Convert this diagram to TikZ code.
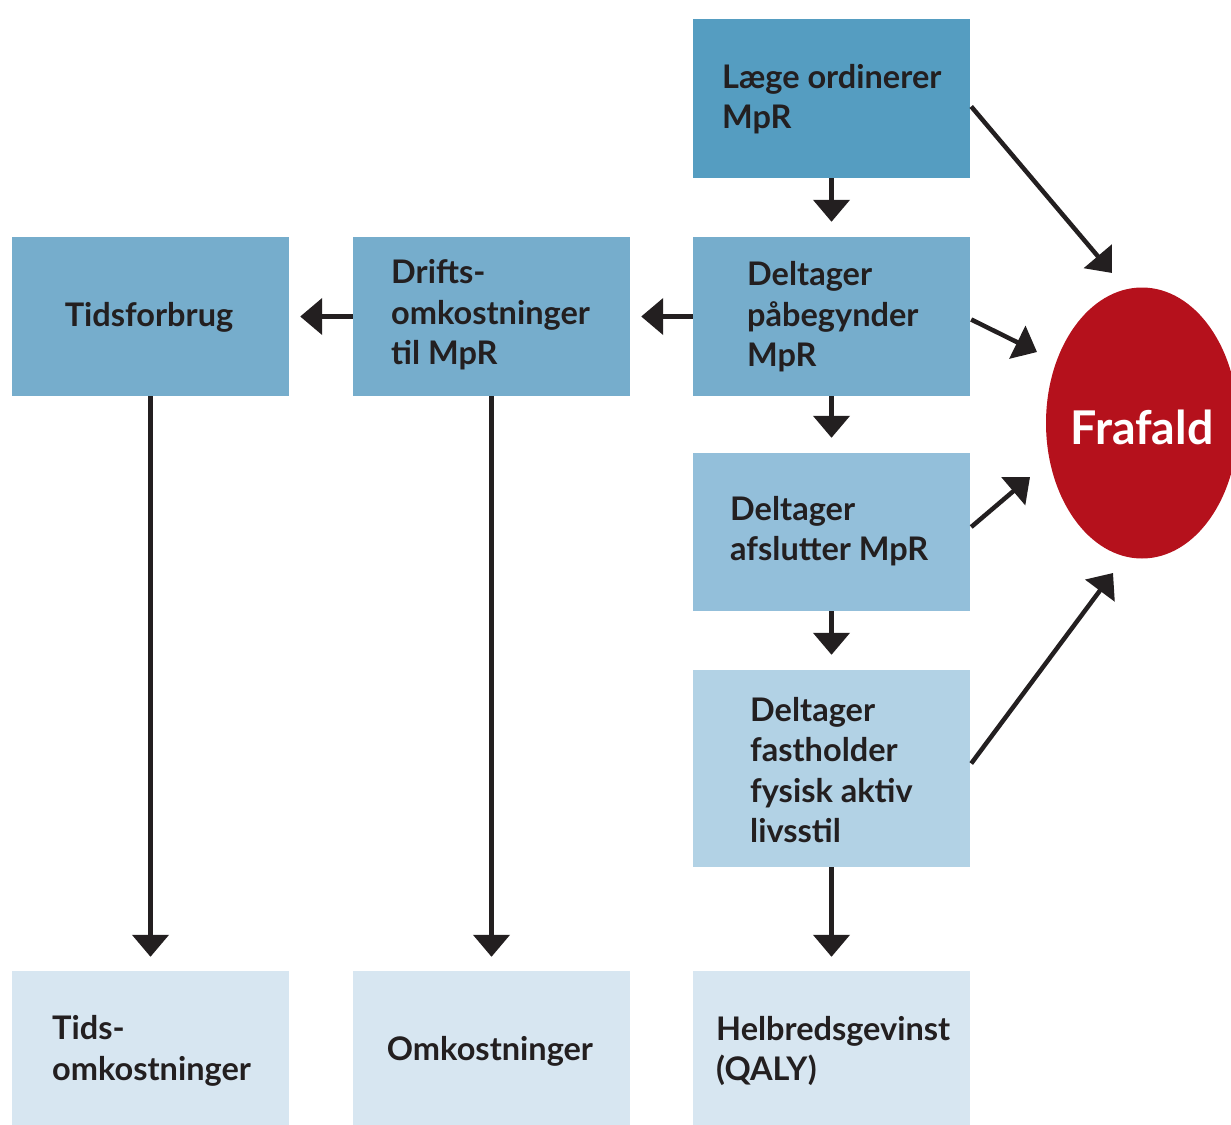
\documentclass[tikz,border=0pt]{standalone}
\usepackage{fontspec}
\setmainfont{Lato}
\usetikzlibrary{arrows.meta,shapes.geometric}
\definecolor{cA}{HTML}{559DC1}
\definecolor{cB}{HTML}{76ADCC}
\definecolor{cC}{HTML}{93BFDA}
\definecolor{cD}{HTML}{B2D2E5}
\definecolor{cE}{HTML}{D7E6F1}
\definecolor{cRed}{HTML}{B5111C}
\definecolor{cTxt}{HTML}{231F20}
\tikzset{
  box/.style={draw=none, minimum width=277pt, inner sep=0pt},
  txt/.style={anchor=west, align=left, inner sep=0pt, text=cTxt,
    font=\fontsize{32.5}{40.5}\selectfont\bfseries},
  ctxt/.style={anchor=center, align=center, inner sep=0pt, text=cTxt,
    font=\fontsize{32.5}{40.5}\selectfont\bfseries},
  arr/.style={line width=4.5pt, draw=cTxt,
    -{Triangle[width=36pt,length=22pt]}},
}
\begin{document}
\begin{tikzpicture}[x=1pt,y=-1pt]
\useasboundingbox (0,0) rectangle (1231,1124);
% boxes
\node[box, fill=cA, minimum height=159pt] (laege) at (831.5,98.5) {};
\node[box, fill=cB, minimum height=159pt] (tids) at (150.5,316.5) {};
\node[box, fill=cB, minimum height=159pt] (drift) at (491.5,316.5) {};
\node[box, fill=cB, minimum height=159pt] (paab) at (831.5,316.5) {};
\node[box, fill=cC, minimum height=158pt] (afsl) at (831.5,532) {};
\node[box, fill=cD, minimum height=197pt] (fast) at (831.5,768.5) {};
\node[box, fill=cE, minimum height=160pt] (tidsomk) at (150.5,1051) {};
\node[box, fill=cE, minimum height=160pt] (omk) at (491.5,1051) {};
\node[box, fill=cE, minimum height=160pt] (helb) at (831.5,1051) {};
\node[ellipse, fill=cRed, minimum width=192pt, minimum height=271pt, inner sep=0pt] (fraf) at (1142,423) {};
% texts
\node[txt] (laegeT) at (722,99) {Læge ordinerer\\MpR};
\node[ctxt] (tidsT) at (149,317) {Tidsforbrug};
\node[txt] (driftT) at (391,315) {Drifts-\\omkostninger\\til MpR};
\node[txt] (paabT) at (747,317) {Deltager\\påbegynder\\MpR};
\node[txt] (afslT) at (730,531) {Deltager\\afslutter MpR};
\node[txt] (fastT) at (750,770) {Deltager\\fastholder\\fysisk aktiv\\livsstil};
\node[txt] (tidsomkT) at (52,1051) {Tids-\\omkostninger};
\node[ctxt] (omkT) at (490,1051) {Omkostninger};
\node[txt] (helbT) at (716,1051) {Helbredsgevinst\\(QALY)};
\node[anchor=center, inner sep=0pt, text=white, font=\fontsize{46.5}{50}\selectfont\bfseries] (frafT) at (1142,427) {Frafald};
% free ends near Frafald
\coordinate (e1) at (1112,273);
\coordinate (e2) at (1037,352);
\coordinate (e3) at (1030,477);
\coordinate (e4) at (1113,573);
% vertical chain
\draw[arr, shorten >=15pt] (laege.south) -- (paab.north);
\draw[arr, shorten >=15pt] (paab.south) -- (afsl.north);
\draw[arr, shorten >=15pt] (afsl.south) -- (fast.north);
\draw[arr, shorten >=14pt] (fast.south) -- (helb.north);
% leftward
\draw[arr, shorten >=11pt] (paab.west) -- (drift.east);
\draw[arr, shorten >=11pt] (drift.west) -- (tids.east);
% long verticals
\draw[arr, shorten >=14pt] (tids.south) -- (tidsomk.north);
\draw[arr, shorten >=14pt] (drift.south) -- (omk.north);
% to Frafald
\draw[arr] ([xshift=1pt,yshift=-8pt]laege.east) -- (e1);
\draw[arr] ([xshift=1pt,yshift=-3pt]paab.east) -- (e2);
\draw[arr] ([xshift=1pt,yshift=5pt]afsl.east) -- (e3);
\draw[arr] ([xshift=1pt,yshift=5pt]fast.east) -- (e4);
\end{tikzpicture}
\end{document}
